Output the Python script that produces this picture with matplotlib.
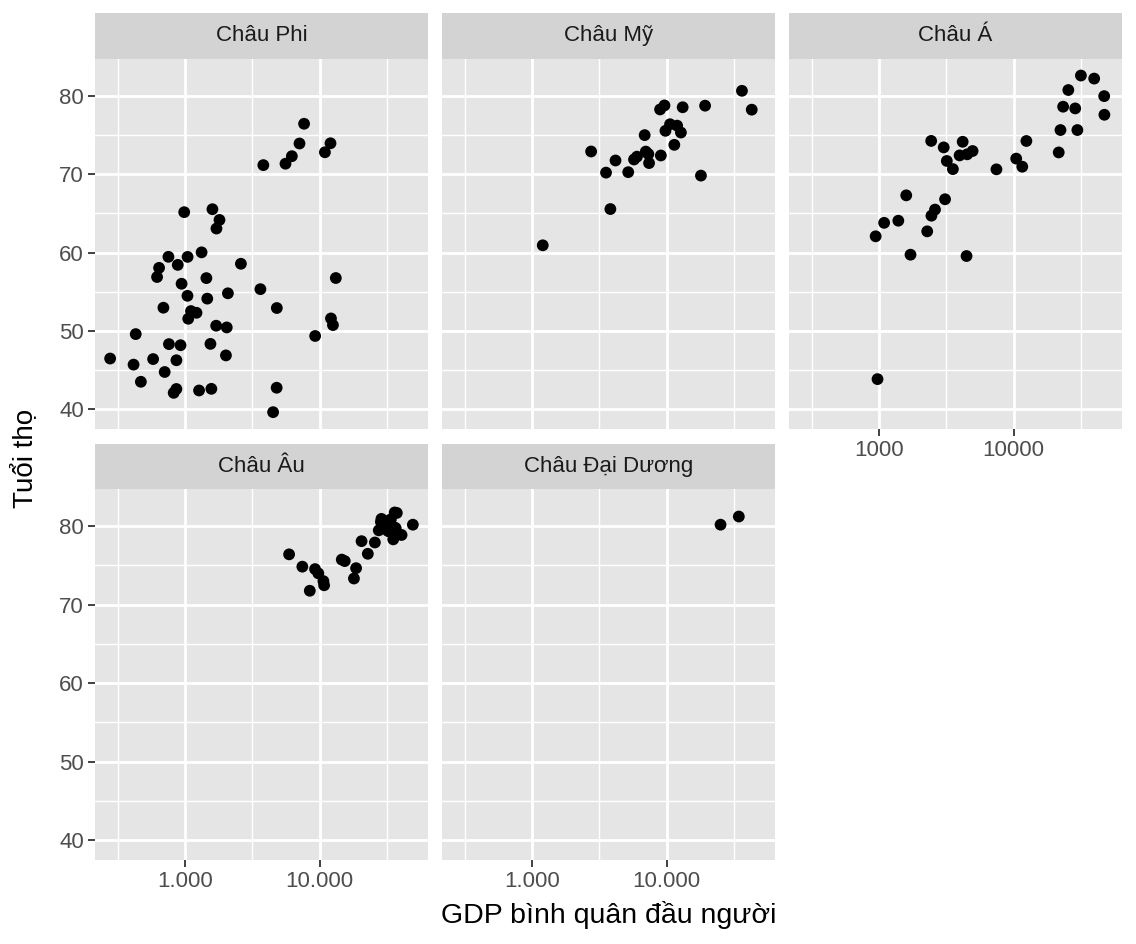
import matplotlib
matplotlib.use("Agg")
import matplotlib.pyplot as plt
from matplotlib.ticker import FixedLocator, FixedFormatter, NullFormatter
import numpy as np

plt.rcParams['font.family'] = ['Liberation Sans', 'DejaVu Sans']

# gapminder 2007: GDP per capita and life expectancy by continent
africa_gdp = [6223.4, 4797.2, 1441.3, 12569.9, 1217.0, 430.1, 2042.1, 706.0, 1704.1, 986.1,
              277.6, 3632.6, 1544.8, 2082.5, 5581.2, 12154.1, 641.4, 690.8, 13206.5, 752.7,
              1327.6, 942.7, 579.2, 1463.2, 1569.3, 414.5, 12057.5, 1044.8, 759.3, 1042.6,
              1803.2, 10957.0, 3820.2, 823.7, 4811.1, 619.7, 2014.0, 7670.1, 863.1, 1598.4,
              1712.5, 862.5, 926.1, 9269.7, 2602.4, 4513.5, 1107.5, 883.0, 7092.9, 1056.4,
              1271.2, 469.7]
africa_life = [72.30, 42.73, 56.73, 50.73, 52.30, 49.58, 50.43, 44.74, 50.65, 65.15,
               46.46, 55.32, 48.33, 54.79, 71.34, 51.58, 58.04, 52.95, 56.74, 59.45,
               60.02, 56.01, 46.39, 54.11, 42.59, 45.68, 73.95, 59.44, 48.30, 54.47,
               64.16, 72.80, 71.16, 42.08, 52.91, 56.87, 46.86, 76.44, 46.24, 65.53,
               63.06, 42.57, 48.16, 49.34, 58.56, 39.61, 52.52, 58.42, 73.92, 51.54,
               42.38, 43.49]

americas_gdp = [12779.4, 3822.1, 9065.8, 36319.2, 13171.6, 7006.6, 9645.1, 8948.1, 6025.4,
                6873.3, 5728.4, 5186.1, 1201.6, 3548.3, 7320.9, 11977.6, 2749.3, 9809.2,
                4172.8, 7408.9, 19328.7, 18008.5, 42951.7, 10611.5, 11415.8]
americas_life = [75.32, 65.55, 72.39, 80.65, 78.55, 72.89, 78.78, 78.27, 72.24,
                 74.99, 71.88, 70.26, 60.92, 70.20, 72.57, 76.20, 72.90, 75.54,
                 71.75, 71.42, 78.75, 69.82, 78.24, 76.38, 73.75]

asia_gdp = [974.6, 29796.0, 1391.3, 1713.8, 4959.1, 39725.0, 2452.2, 3540.7, 11605.7, 4471.1,
            25523.3, 31656.1, 4519.5, 1593.1, 23348.1, 47307.0, 10461.1, 12451.7, 3095.8, 944.0,
            1091.4, 22316.2, 2605.9, 3190.5, 21654.8, 47143.2, 3970.1, 4184.5, 28718.3, 7458.4,
            2441.6, 3025.4, 2280.8]
asia_life = [43.83, 75.64, 64.06, 59.72, 72.96, 82.21, 64.70, 70.65, 70.96, 59.55,
             80.75, 82.60, 72.54, 67.30, 78.62, 77.59, 71.99, 74.24, 66.80, 62.07,
             63.79, 75.64, 65.48, 71.69, 72.78, 79.97, 72.40, 74.14, 78.40, 70.62,
             74.25, 73.42, 62.70]

europe_gdp = [5937.0, 36126.5, 33692.6, 7446.3, 10680.8, 14619.2, 22833.3, 35278.4, 33207.1,
              30470.0, 32170.4, 27538.4, 18008.9, 36180.8, 40676.0, 28569.7, 9253.9, 36797.9,
              49357.2, 15389.9, 20509.6, 10808.5, 9786.5, 18678.3, 25768.3, 28821.1, 33859.7,
              37506.4, 8458.3, 33203.3]
europe_life = [76.42, 79.83, 79.44, 74.85, 73.01, 75.75, 76.49, 78.33, 79.31,
               80.66, 79.41, 79.48, 73.34, 81.76, 78.89, 80.55, 74.54, 79.76,
               80.20, 75.56, 78.10, 72.48, 74.00, 74.66, 77.93, 80.94, 80.88,
               81.70, 71.78, 79.43]

oceania_gdp = [34435.4, 25185.0]
oceania_life = [81.24, 80.20]

panel_names = ["Châu Phi", "Châu Mỹ", "Châu Á", "Châu Âu", "Châu Đại Dương"]
panel_gdp = [africa_gdp, americas_gdp, asia_gdp, europe_gdp, oceania_gdp]
panel_life = [africa_life, americas_life, asia_life, europe_life, oceania_life]

x_breaks = [1000, 10000]
x_labels_dot = ["1.000", "10.000"]
x_labels_plain = ["1000", "10000"]
y_breaks = [40, 50, 60, 70, 80]

W, H = 1136, 944
fig = plt.figure(figsize=(W / 100, H / 100), dpi=100)

# ggplot-like limits: 5% expansion on the transformed scale
all_gdp = np.log10(np.concatenate([np.array(g) for g in panel_gdp]))
all_life = np.concatenate([np.array(v) for v in panel_life])
gx0, gx1 = all_gdp.min(), all_gdp.max()
gy0, gy1 = all_life.min(), all_life.max()
xlim = (10 ** (gx0 - 0.05 * (gx1 - gx0)), 10 ** (gx1 + 0.05 * (gx1 - gx0)))
ylim = (gy0 - 0.05 * (gy1 - gy0), gy1 + 0.05 * (gy1 - gy0))

col_left = [95, 442, 789]
pw = 333
rows = [(13, 58.7, 429), (444, 489, 860)]  # strip top, panel top, panel bottom

panel_bg = "#E5E5E5"
strip_bg = "#D3D3D3"

for i, name in enumerate(panel_names):
    r, c = divmod(i, 3)
    st, pt, pb = rows[r]
    left = col_left[c]
    ax = fig.add_axes([left / W, 1 - pb / H, pw / W, (pb - pt) / H])
    sax = fig.add_axes([left / W, 1 - pt / H, pw / W, (pt - st) / H])
    sax.set_facecolor(strip_bg)
    sax.set_xticks([])
    sax.set_yticks([])
    for s in sax.spines.values():
        s.set_visible(False)
    sax.text(0.5, 0.5, name, ha="center", va="center", fontsize=16, color="#1A1A1A",
             transform=sax.transAxes)

    ax.set_facecolor(panel_bg)
    ax.set_xscale("log")
    ax.set_xlim(xlim)
    ax.set_ylim(ylim)
    ax.xaxis.set_major_locator(FixedLocator(x_breaks))
    ax.xaxis.set_minor_locator(FixedLocator([10 ** 2.5, 10 ** 3.5, 10 ** 4.5]))
    ax.yaxis.set_major_locator(FixedLocator(y_breaks))
    ax.yaxis.set_minor_locator(FixedLocator([45, 55, 65, 75]))
    ax.xaxis.set_minor_formatter(NullFormatter())
    ax.grid(True, which="major", color="white", linewidth=2.0)
    ax.grid(True, which="minor", color="white", linewidth=1.0)
    ax.set_axisbelow(True)
    for s in ax.spines.values():
        s.set_visible(False)
    ax.tick_params(which="minor", length=0)
    ax.tick_params(which="major", length=5, width=1.3, color="#333333",
                   labelsize=16, labelcolor="#4D4D4D", pad=3)

    if c == 0:
        ax.yaxis.set_major_formatter(FixedFormatter([str(v) for v in y_breaks]))
    else:
        ax.tick_params(axis="y", which="major", length=0, labelleft=False)

    if r == 1:
        ax.xaxis.set_major_formatter(FixedFormatter(x_labels_dot))
    elif i == 2:
        ax.xaxis.set_major_formatter(FixedFormatter(x_labels_plain))
    else:
        ax.tick_params(axis="x", which="major", length=0, labelbottom=False)

    ax.scatter(panel_gdp[i], panel_life[i], s=72, color="black", edgecolors="none", zorder=3)

fig.text(609 / W, 1 - 915 / H, "GDP bình quân đầu người", ha="center", va="center",
         fontsize=20.5, color="black")
fig.text(25 / W, 1 - 458 / H, "Tuổi thọ", ha="center", va="center", rotation=90,
         fontsize=20, color="black")

fig.savefig("out.png", dpi=100)
